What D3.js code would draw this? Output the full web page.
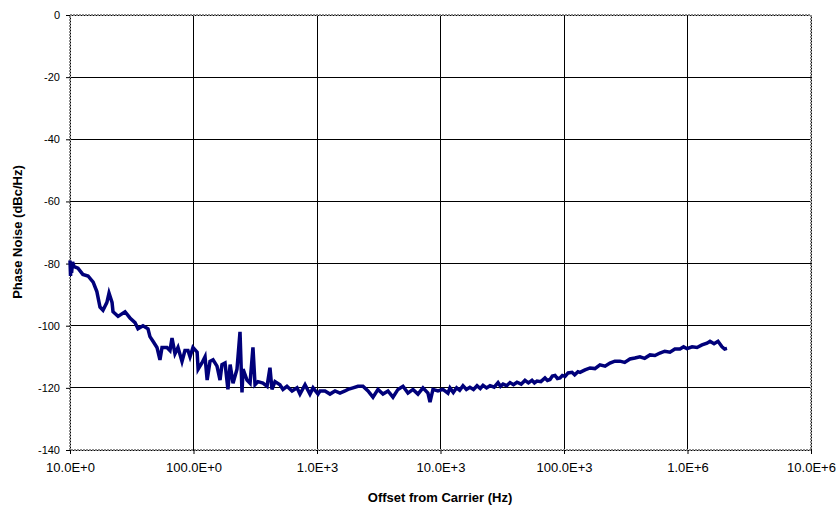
<html>
<head><meta charset="utf-8"></head>
<script src="https://d3js.org/d3.v7.min.js"></script>
<body style="margin:0;background:#fff">
<svg width=838 height=508></svg>
<script>
// offset frequency (Hz) and phase noise (dBc/Hz)
const freqHz = [10, 10.1, 10.2, 10.3, 10.5, 10.8, 11.6, 12.7, 14.0, 15.4, 16.5, 17.5, 18.5, 19.9, 20.7, 21.9, 22.3, 24.5, 27.9, 30.6, 33.6, 35.5, 39.0, 42.8, 44.4, 47.0, 50.6, 53.5, 55.6, 61.0, 64.5, 67.0, 70.8, 74.9, 80.7, 85.3, 90.2, 93.7, 99,
  107, 109, 117, 124, 129, 136, 144, 155, 164, 170, 180, 190, 198, 209, 225, 238, 247, 252, 271, 287, 303, 315, 333, 365, 394, 416, 432, 457, 501, 530, 571, 628, 689, 728, 800, 877, 929, 1019, 1057,
  1119, 1161, 1274, 1399, 1535, 1686, 1782, 1956, 2147, 2356, 2588, 2840, 3118, 3422, 3756, 4122, 4525, 4967, 5452, 5984, 6568, 7210, 7914, 8222, 8687, 9534, 10466, 11488,
  11932, 12700, 13500, 14300, 15210, 16200, 17300, 18500, 19760, 21000, 22100, 23600, 25170, 27200, 29230, 30600, 32080, 34300, 36540, 39000, 41620, 45000, 48300, 51500, 55060, 57600, 60420, 65000, 70150, 73500, 77030, 80500, 84560, 88500, 92830, 97000, 101900, 108000, 116100, 122000, 129800,
  134800, 148000, 162500, 178000, 195500, 215000, 235600, 258000, 283700, 310000, 342000, 375000, 412000, 450000, 497000, 545000, 598000, 655000, 721000, 790000, 869000, 930000, 991000, 1090000, 1194000, 1310000, 1439000, 1521000, 1640000, 1766000, 1903000, 2000000, 2089000];
const phaseNoise = [-79, -84, -80, -83, -79.5, -81, -81.5, -83.5, -84, -86, -89, -94, -95, -92.5, -89.5, -92.5, -95.5, -97, -95.5, -97.5, -99, -101, -100, -101, -103.5, -105, -107, -111, -107, -107, -108, -104, -109, -107, -111.5, -108, -108, -110, -107,
  -108.5, -114, -112, -110, -117.5, -111.5, -111, -113, -117.5, -112.5, -112, -120.5, -112.5, -118.5, -114, -102, -121.5, -114, -117.5, -118.5, -107, -119, -118, -118.5, -119.5, -113.5, -120.5, -118, -119, -120.5, -119.5, -121, -120, -122, -119, -122, -120, -122, -121,
  -121, -121, -122, -121, -121.7, -121, -120.5, -120, -119.5, -119.5, -121, -123, -120.5, -122, -121, -123, -120.5, -119.5, -121.7, -120.5, -122, -120, -121.7, -124.6, -120.5, -121, -120.5, -121.7,
  -120, -121.5, -120, -120.8, -119.3, -120.5, -119.8, -120.5, -119.3, -120.2, -119.2, -120, -119.3, -119.8, -118.3, -119.5, -118.8, -119.3, -118.3, -119, -118.2, -118.8, -117.6, -118.4, -117.6, -118.4, -117.8, -118, -116.8, -117.6, -117.3, -116.2, -116, -117, -116.8, -116, -116.3, -115.2, -115, -115.8, -114.8,
  -115, -114.2, -113.6, -113.8, -112.6, -113, -112, -111.4, -111.4, -111.8, -110.7, -110.4, -110, -110.5, -109.4, -109.6, -108.8, -108.2, -108.5, -107.5, -107.5, -106.8, -107.4, -106.8, -107, -106.2, -105.6, -105, -105.8, -105, -106.8, -107.5, -107.3];
const yTicks = [0, -20, -40, -60, -80, -100, -120, -140];
const xTicks = [1e1, 1e2, 1e3, 1e4, 1e5, 1e6, 1e7];
const xTickLabels = ["10.0E+0", "100.0E+0", "1.0E+3", "10.0E+3", "100.0E+3", "1.0E+6", "10.0E+6"];

const svg = d3.select("svg");
const plotLeft = 70, plotRight = 811, plotTop = 15, plotBottom = 450;
const font = "Liberation Sans, Arial, sans-serif";

const x = d3.scaleLog().domain([1e1, 1e7]).range([plotLeft, plotRight]);
const y = d3.scaleLinear().domain([-140, 0]).range([plotBottom, plotTop]);

// grid
svg.append("g").selectAll("line").data(yTicks).enter().append("line")
  .attr("x1", plotLeft).attr("x2", plotRight)
  .attr("y1", d => y(d)).attr("y2", d => y(d))
  .attr("stroke", "#000").attr("stroke-width", 1).attr("shape-rendering", "crispEdges");
svg.append("g").selectAll("line").data(xTicks).enter().append("line")
  .attr("x1", d => x(d)).attr("x2", d => x(d))
  .attr("y1", plotTop).attr("y2", plotBottom)
  .attr("stroke", "#000").attr("stroke-width", 1).attr("shape-rendering", "crispEdges");

// plot area border
svg.append("rect")
  .attr("x", plotLeft).attr("y", plotTop)
  .attr("width", plotRight - plotLeft).attr("height", plotBottom - plotTop)
  .attr("fill", "none").attr("stroke", "#8a8a8a").attr("stroke-width", 2)
  .attr("stroke-dasharray", "2,1");

// axes
const yAxis = svg.append("g").attr("transform", "translate(" + plotLeft + ",0)")
  .call(d3.axisLeft(y).tickValues(yTicks).tickFormat(d => String(d)).tickSize(4).tickPadding(6));
yAxis.select(".domain").remove();
yAxis.selectAll("text").style("font-family", font).style("font-size", "11px").attr("fill", "#000");

const xAxis = svg.append("g").attr("transform", "translate(0," + plotBottom + ")")
  .call(d3.axisBottom(x).tickValues(xTicks).tickFormat((d, i) => xTickLabels[i]).tickSize(4).tickPadding(9));
xAxis.select(".domain").remove();
xAxis.selectAll("text").style("font-family", font).style("font-size", "13px").attr("fill", "#000");

// trace
const pts = freqHz.map((f, i) => [f, phaseNoise[i]]);
svg.append("path")
  .datum(pts)
  .attr("d", d3.line().x(d => x(d[0])).y(d => y(d[1])))
  .attr("fill", "none").attr("stroke", "#00007a").attr("stroke-width", 3.5)
  .attr("stroke-linejoin", "miter");

// titles
svg.append("text")
  .attr("x", 440).attr("y", 502)
  .attr("text-anchor", "middle")
  .style("font-family", font).style("font-size", "13px").style("font-weight", "bold")
  .text("Offset from Carrier (Hz)");
svg.append("text")
  .attr("transform", "translate(22,232) rotate(-90)")
  .attr("text-anchor", "middle")
  .style("font-family", font).style("font-size", "13px").style("font-weight", "bold")
  .text("Phase Noise (dBc/Hz)");
</script>
</body>
</html>
